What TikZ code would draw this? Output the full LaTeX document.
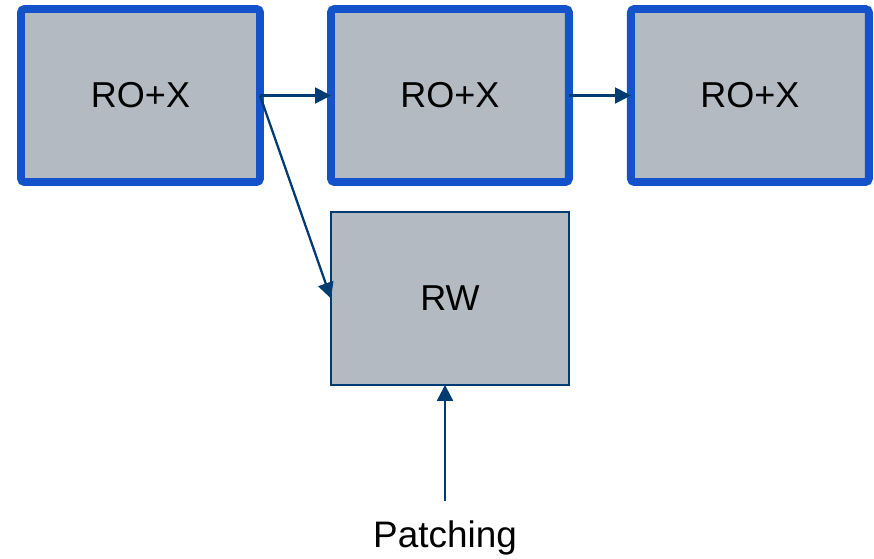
\documentclass[tikz,border=0pt]{standalone}
\usepackage{fontspec}
\setmainfont{Liberation Sans}
\usetikzlibrary{arrows.meta,positioning}
\definecolor{lapkek}{RGB}{20,82,204}
\definecolor{lapszurke}{RGB}{179,186,193}
\definecolor{nyilkek}{RGB}{0,59,114}
\tikzset{
  lap/.style={draw=lapkek,line width=4.5pt,rounded corners=2pt,fill=lapszurke,outer sep=0pt,
              minimum width=4.76cm,minimum height=3.46cm,font=\fontsize{20.5}{24}\selectfont},
  irhato/.style={draw=nyilkek,line width=1.1pt,fill=lapszurke,outer sep=0pt,
                 minimum width=4.76cm,minimum height=3.46cm,font=\fontsize{20.5}{24}\selectfont},
  nyil/.style={draw=nyilkek,line width=1.3pt,-{Triangle[length=9pt,width=9pt]}},
  cimke/.style={font=\fontsize{21}{25}\selectfont,inner sep=1pt},
}

\begin{document}
\begin{tikzpicture}[x=0.02cm,y=-0.02cm]
  \useasboundingbox (0,0) rectangle (874,558);
  \node[lap,minimum width=4.78cm] (b1) at (140.5,95.5) {RO+X};
  \node[lap,right=1.42cm of b1] (b2) {RO+X};
  \node[lap,right=1.24cm of b2] (b3) {RO+X};
  \node[irhato,below=0.6cm of b2] (rw) {RW};
  \node[cimke] (patch) at (445,538) {Patching};
  \draw[nyil] (b1.east) -- (b2.west); \draw[nyil] (b2.east) -- (b3.west);
  \draw[nyil] (b1.east) -- (rw.west);
  \draw[nyil,shorten <=0.36cm] (patch.north) -- (patch.north |- rw.south);
\end{tikzpicture}
\end{document}
